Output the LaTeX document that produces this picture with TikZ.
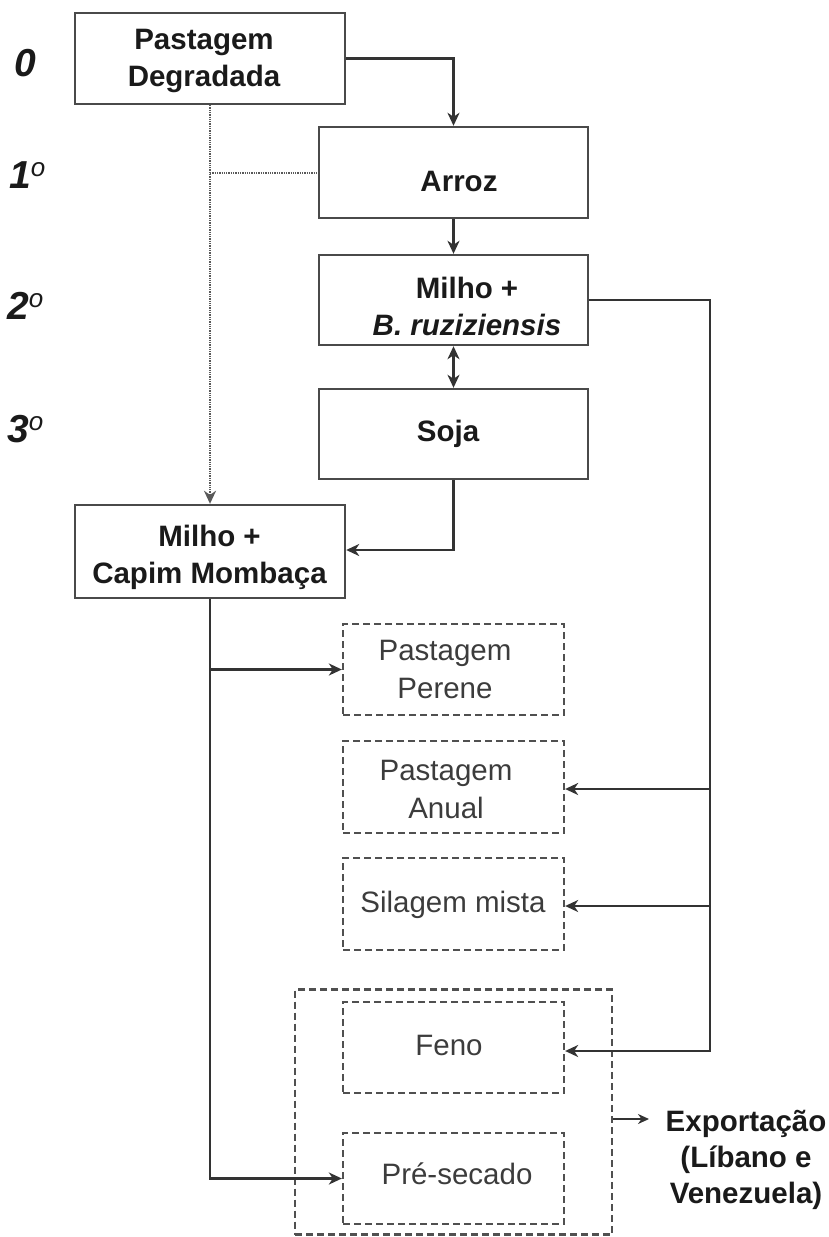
\documentclass[tikz,border=0pt]{standalone}
\usepackage{fontspec}
\setmainfont{Liberation Sans}
\usetikzlibrary{arrows.meta}
\definecolor{lnc}{HTML}{333333}
\definecolor{bxc}{HTML}{4A4A4A}
\definecolor{dbc}{HTML}{505050}
\definecolor{txc}{HTML}{1A1A1A}
\begin{document}
\begin{tikzpicture}[x=1pt,y=-1pt,
  sbox/.style={draw=bxc, line width=2.4pt, inner sep=0pt},
  dbox/.style={draw=dbc, line width=2.3pt, dash pattern=on 7pt off 4pt, inner sep=0pt},
  btxt/.style={text=txc, inner sep=0pt, align=center, font=\fontsize{29.5}{37}\selectfont\bfseries},
  rtxt/.style={text=txc!85!white, inner sep=0pt, align=center, font=\fontsize{29.5}{38}\selectfont},
  lbl/.style={text=txc, inner sep=0pt, anchor=base west, font=\fontsize{39}{39}\selectfont\bfseries\itshape},
  tip/.style={Stealth[length=13pt,width=12pt,inset=4pt]},
  arr/.style={draw=lnc, line width=2.4pt, -{Stealth[length=13pt,width=12pt,inset=4pt]}},
  dotl/.style={draw=gray!70!black, line width=2pt, dash pattern=on 1.3pt off 1.0pt}
]
\useasboundingbox (0,0) rectangle (829,1237);
\newcommand{\ordo}{\raisebox{12pt}{\fontsize{26}{26}\selectfont\mdseries\itshape o}}

% row labels
\node[lbl] (l0) at (14,76) {0};
\node[lbl] (l1) at (9,188) {1\ordo};
\node[lbl] (l2) at (7,319) {2\ordo};
\node[lbl] (l3) at (7,442) {3\ordo};

% solid boxes
\node[sbox, minimum width=270pt, minimum height=91pt] (pd) at (210,58.3) {};
\node[sbox, minimum width=269pt, minimum height=91pt] (arroz) at (453.5,172.5) {};
\node[sbox, minimum width=269pt, minimum height=90pt] (mb) at (453.5,300) {};
\node[sbox, minimum width=269pt, minimum height=90pt] (soja) at (453.5,434) {};
\node[sbox, minimum width=270pt, minimum height=93pt] (mc) at (210,551.5) {};

\node[btxt] (pdT) at (204,61) {Pastagem\\Degradada};
\node[btxt, anchor=base] (arrozT) at (459,191) {Arroz};
\node[btxt] (mbT) at (467,306.5) {Milho +\\\textit{B. ruziziensis}};
\node[btxt, anchor=base] (sojaT) at (448,441) {Soja};
\node[btxt] (mcT) at (209.5,557) {Milho +\\Capim Mombaça};

% dashed boxes
\node[dbox, minimum width=221pt, minimum height=91pt] (per) at (453.5,669.5) {};
\node[dbox, minimum width=221pt, minimum height=92pt] (anual) at (453.5,787) {};
\node[dbox, minimum width=221pt, minimum height=92pt] (sil) at (453.5,904) {};
\node[dbox, minimum width=221pt, minimum height=91pt] (feno) at (453.5,1047.5) {};
\node[dbox, minimum width=221pt, minimum height=91pt] (pre) at (453.5,1178.5) {};
\node[dbox, minimum width=317pt, minimum height=245pt] (outer) at (453.5,1112) {};

\node[rtxt] (perT) at (445,669.5) {Pastagem\\Perene};
\node[rtxt] (anualT) at (446,789.5) {Pastagem\\Anual};
\node[rtxt, anchor=base] (silT) at (453,912) {Silagem mista};
\node[rtxt, anchor=base] (fenoT) at (449,1055) {Feno};
\node[rtxt, anchor=base] (preT) at (457,1184) {Pré-secado};

\node[btxt, font=\fontsize{29.5}{36}\selectfont\bfseries] (exp) at (746,1160) {Exportação\\(Líbano e\\Venezuela)};

% connectors
\draw[arr] (pd.east) -| (arroz.north);
\draw[arr] (arroz.south) -- (mb.north);
\draw[draw=lnc, line width=2.4pt, {Stealth[length=13pt,width=12pt,inset=4pt]}-{Stealth[length=13pt,width=12pt,inset=4pt]}] (mb.south) -- (soja.north);
\draw[arr] (soja.south) |- ([yshift=1.5pt]mc.east);

% dotted
\draw[dotl, -{Stealth[length=13pt,width=12pt,inset=4pt]}] (pd.south) -- (mc.north);
\draw[dotl] (pd.south |- arroz.west) -- (arroz.west);

% left bus
\draw[arr] (mc.south) |- (pre.west);
\draw[arr] (mc.south |- per.west) -- (per.west);

% right bus
\coordinate (rbus) at (710,0);
\draw[arr] (mb.east) -- (mb.east -| rbus) |- ([yshift=-3.5pt]feno.east);
\draw[arr] ([yshift=-2pt]anual.east -| rbus) -- ([yshift=-2pt]anual.east);
\draw[arr] ([yshift=-2pt]sil.east -| rbus) -- ([yshift=-2pt]sil.east);

% export
\coordinate (expin) at (649,1119);
\draw[draw=lnc, line width=2pt, -{Stealth[length=11pt,width=10pt,inset=3.5pt]}] (outer.east |- expin) -- (expin);
\end{tikzpicture}
\end{document}
